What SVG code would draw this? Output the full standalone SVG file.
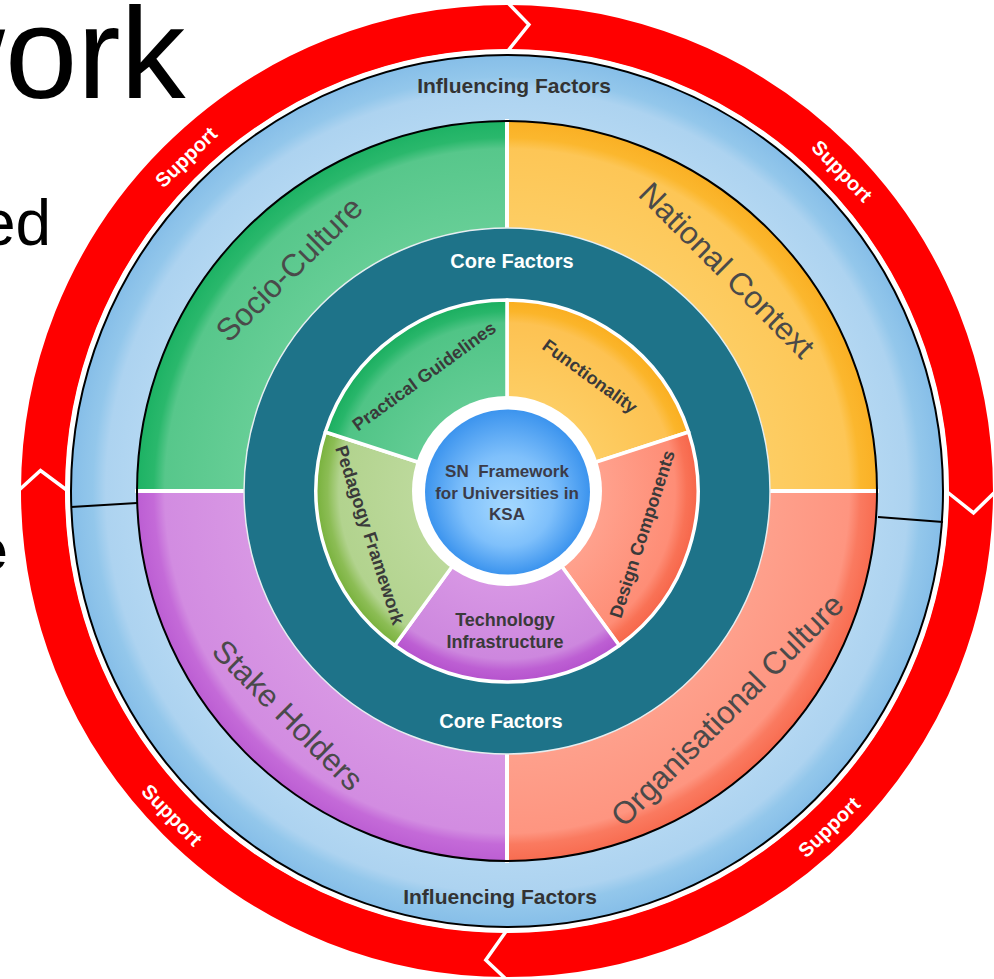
<svg xmlns="http://www.w3.org/2000/svg" width="994" height="979" viewBox="0 0 994 979">
<defs>
<radialGradient id="gBlueRing" gradientUnits="userSpaceOnUse" cx="507" cy="491" r="436">
<stop offset="0.848" stop-color="#b3d7f2"/><stop offset="0.92" stop-color="#add3f0"/><stop offset="0.95" stop-color="#93c7eb"/><stop offset="1" stop-color="#86bee8"/>
</radialGradient>
<radialGradient id="gGreen" gradientUnits="userSpaceOnUse" cx="507" cy="491" r="370">
<stop offset="0.71" stop-color="#66ce96"/><stop offset="0.925" stop-color="#57c78b"/><stop offset="0.955" stop-color="#2ab86c"/><stop offset="1" stop-color="#1db264"/>
</radialGradient>
<radialGradient id="gOrange" gradientUnits="userSpaceOnUse" cx="507" cy="491" r="370">
<stop offset="0.71" stop-color="#fdcd63"/><stop offset="0.925" stop-color="#fdc656"/><stop offset="0.955" stop-color="#fbb72e"/><stop offset="1" stop-color="#fab024"/>
</radialGradient>
<radialGradient id="gSalmon" gradientUnits="userSpaceOnUse" cx="507" cy="491" r="370">
<stop offset="0.71" stop-color="#fea08c"/><stop offset="0.925" stop-color="#fe9580"/><stop offset="0.955" stop-color="#fa7a60"/><stop offset="1" stop-color="#f86c50"/>
</radialGradient>
<radialGradient id="gPurple" gradientUnits="userSpaceOnUse" cx="507" cy="491" r="370">
<stop offset="0.71" stop-color="#d897e4"/><stop offset="0.925" stop-color="#d28ce1"/><stop offset="0.955" stop-color="#c46ad8"/><stop offset="1" stop-color="#bc5ed3"/>
</radialGradient>
<radialGradient id="pGreen" gradientUnits="userSpaceOnUse" cx="507" cy="491" r="191">
<stop offset="0.5" stop-color="#62cc94"/><stop offset="0.88" stop-color="#50c486"/><stop offset="0.94" stop-color="#28b66a"/><stop offset="1" stop-color="#1aae5f"/>
</radialGradient>
<radialGradient id="pOrange" gradientUnits="userSpaceOnUse" cx="507" cy="491" r="191">
<stop offset="0.5" stop-color="#fdcd63"/><stop offset="0.88" stop-color="#fdc252"/><stop offset="0.94" stop-color="#fbb52a"/><stop offset="1" stop-color="#faae20"/>
</radialGradient>
<radialGradient id="pSalmon" gradientUnits="userSpaceOnUse" cx="507" cy="491" r="191">
<stop offset="0.5" stop-color="#ffa18d"/><stop offset="0.88" stop-color="#fe8d76"/><stop offset="0.94" stop-color="#f97256"/><stop offset="1" stop-color="#f6664a"/>
</radialGradient>
<radialGradient id="pPurple" gradientUnits="userSpaceOnUse" cx="507" cy="491" r="191">
<stop offset="0.5" stop-color="#d796e4"/><stop offset="0.88" stop-color="#cd87de"/><stop offset="0.94" stop-color="#bd5fd3"/><stop offset="1" stop-color="#b552cd"/>
</radialGradient>
<radialGradient id="pOlive" gradientUnits="userSpaceOnUse" cx="507" cy="491" r="191">
<stop offset="0.5" stop-color="#bcd99b"/><stop offset="0.88" stop-color="#b2d38e"/><stop offset="0.94" stop-color="#8cbd55"/><stop offset="1" stop-color="#78b13c"/>
</radialGradient>
<radialGradient id="gCore" cx="0.5" cy="0.5" r="0.5" fx="0.5" fy="0.62">
<stop offset="0" stop-color="#a6d9ff"/><stop offset="0.55" stop-color="#7fc0fb"/><stop offset="1" stop-color="#3c94ee"/>
</radialGradient>
<style>
.sup{font-family:"Liberation Sans",Arial,sans-serif;font-weight:bold;font-size:20px;fill:#ffffff;text-anchor:middle}
.inf{font-family:"Liberation Sans",Arial,sans-serif;font-weight:bold;font-size:21px;fill:#333333;text-anchor:middle}
.core{font-family:"Liberation Sans",Arial,sans-serif;font-weight:bold;font-size:20px;fill:#ffffff;text-anchor:middle}
.quad{font-family:"Liberation Sans",Arial,sans-serif;font-size:31.5px;fill:#4a4a4a;text-anchor:middle}
.pie{font-family:"Liberation Sans",Arial,sans-serif;font-weight:bold;font-size:18px;fill:#3a3a3a;text-anchor:middle}
.ctr{font-family:"Liberation Sans",Arial,sans-serif;font-weight:bold;font-size:17px;fill:#3b3b48;text-anchor:middle}
.slide{font-family:"Liberation Sans",Arial,sans-serif;fill:#000000}
.chev{fill:none;stroke:#ffffff;stroke-width:3.5;stroke-linejoin:miter}
.sep{stroke:#ffffff;stroke-width:4}
.blk{fill:none;stroke:#000000;stroke-width:2}
</style>
</defs>
<rect x="0" y="0" width="994" height="979" fill="#ffffff"/>

<g id="slide-text">
<text class="slide" x="-89" y="98" font-size="130">work</text>
<text class="slide" x="-20" y="245" font-size="64">ed</text>
<text class="slide" x="-26" y="570" font-size="60" font-weight="bold">e</text>
</g>

<g id="support-ring">
<circle cx="507" cy="491" r="464" fill="none" stroke="#ff0000" stroke-width="44"/>
<circle cx="507" cy="491" r="440" fill="none" stroke="#ffffff" stroke-width="3"/>
<polyline class="chev" points="507,2 528.9,24.5 507,52"/>
<polyline class="chev" points="996,491 973.5,512.9 946,491"/>
<polyline class="chev" points="507,980 485.8,960 507,930"/>
<polyline class="chev" points="18,491 40.5,470.5 68,491"/>
<text class="sup" transform="translate(186,157) rotate(-44)" y="7">Support</text>
<text class="sup" transform="translate(842,171) rotate(46)" y="7">Support</text>
<text class="sup" transform="translate(172,815) rotate(46)" y="7">Support</text>
<text class="sup" transform="translate(829,827) rotate(-44)" y="7">Support</text>
</g>

<g id="influencing-factors">
<circle cx="507" cy="491" r="436" fill="url(#gBlueRing)" stroke="#000000" stroke-width="2"/>
<line x1="71" y1="507" x2="137" y2="503" stroke="#000000" stroke-width="2"/>
<line x1="878" y1="517" x2="943" y2="522" stroke="#000000" stroke-width="2"/>
<text class="inf" x="514" y="93">Influencing Factors</text>
<text class="inf" x="500" y="904">Influencing Factors</text>
</g>

<g id="socio-culture">
<path d="M137,491 A370,370 0 0 1 507,121 L507,228 A263,263 0 0 0 244,491 Z" fill="url(#gGreen)"/>
<text class="quad" transform="translate(289,269) rotate(-44.5)" y="11">Socio-Culture</text>
</g>
<g id="national-context">
<path d="M507,121 A370,370 0 0 1 877,491 L770,491 A263,263 0 0 0 507,228 Z" fill="url(#gOrange)"/>
<text class="quad" transform="translate(727,270) rotate(45)" y="11">National Context</text>
</g>
<g id="organisational-culture">
<path d="M877,491 A370,370 0 0 1 507,861 L507,754 A263,263 0 0 0 770,491 Z" fill="url(#gSalmon)"/>
<text class="quad" transform="translate(727,710) rotate(-45)" y="11">Organisational Culture</text>
</g>
<g id="stake-holders">
<path d="M507,861 A370,370 0 0 1 137,491 L244,491 A263,263 0 0 0 507,754 Z" fill="url(#gPurple)"/>
<text class="quad" transform="translate(288,715) rotate(45)" y="11">Stake Holders</text>
</g>
<g id="quadrant-borders">
<line class="sep" x1="507" y1="119" x2="507" y2="230"/>
<line class="sep" x1="768" y1="491" x2="879" y2="491"/>
<line class="sep" x1="507" y1="752" x2="507" y2="863"/>
<line class="sep" x1="135" y1="491" x2="246" y2="491"/>
<circle class="blk" cx="507" cy="491" r="370"/>
</g>

<g id="core-factors">
<circle cx="507" cy="491" r="263" fill="#1e7389" stroke="#e6eef0" stroke-width="1.5"/>
<text class="core" x="512" y="268">Core Factors</text>
<text class="core" x="501" y="728">Core Factors</text>
</g>

<g id="functionality">
<path d="M507,491 L507,300 A191,191 0 0 1 688.65,431.98 Z" fill="url(#pOrange)" stroke="#ffffff" stroke-width="3.5" stroke-linejoin="round"/>
<text class="pie" transform="translate(590,376) rotate(36)" y="6.3">Functionality</text>
</g>
<g id="design-components">
<path d="M507,491 L688.65,431.98 A191,191 0 0 1 619.27,645.52 Z" fill="url(#pSalmon)" stroke="#ffffff" stroke-width="3.5" stroke-linejoin="round"/>
<text class="pie" transform="translate(642,534) rotate(-72)" y="6.3">Design Components</text>
</g>
<g id="technology-infrastructure">
<path d="M507,491 L619.27,645.52 A191,191 0 0 1 394.73,645.52 Z" fill="url(#pPurple)" stroke="#ffffff" stroke-width="3.5" stroke-linejoin="round"/>
<text class="pie" x="505" y="626" font-size="17">Technology</text>
<text class="pie" x="505" y="648" font-size="17">Infrastructure</text>
</g>
<g id="pedagogy-framework">
<path d="M507,491 L394.73,645.52 A191,191 0 0 1 325.35,431.98 Z" fill="url(#pOlive)" stroke="#ffffff" stroke-width="3.5" stroke-linejoin="round"/>
<text class="pie" transform="translate(370,535) rotate(72)" y="6.3">Pedagogy Framework</text>
</g>
<g id="practical-guidelines">
<path d="M507,491 L325.35,431.98 A191,191 0 0 1 507,300 Z" fill="url(#pGreen)" stroke="#ffffff" stroke-width="3.5" stroke-linejoin="round"/>
<text class="pie" transform="translate(424,376) rotate(-36)" y="6.3">Practical Guidelines</text>
</g>

<g id="sn-framework">
<circle cx="507" cy="491" r="95" fill="#ffffff"/>
<circle cx="507.5" cy="492" r="82.5" fill="url(#gCore)"/>
<text class="ctr" x="507" y="477" xml:space="preserve">SN  Framework</text>
<text class="ctr" x="507" y="499">for Universities in</text>
<text class="ctr" x="507" y="520">KSA</text>
</g>
</svg>
